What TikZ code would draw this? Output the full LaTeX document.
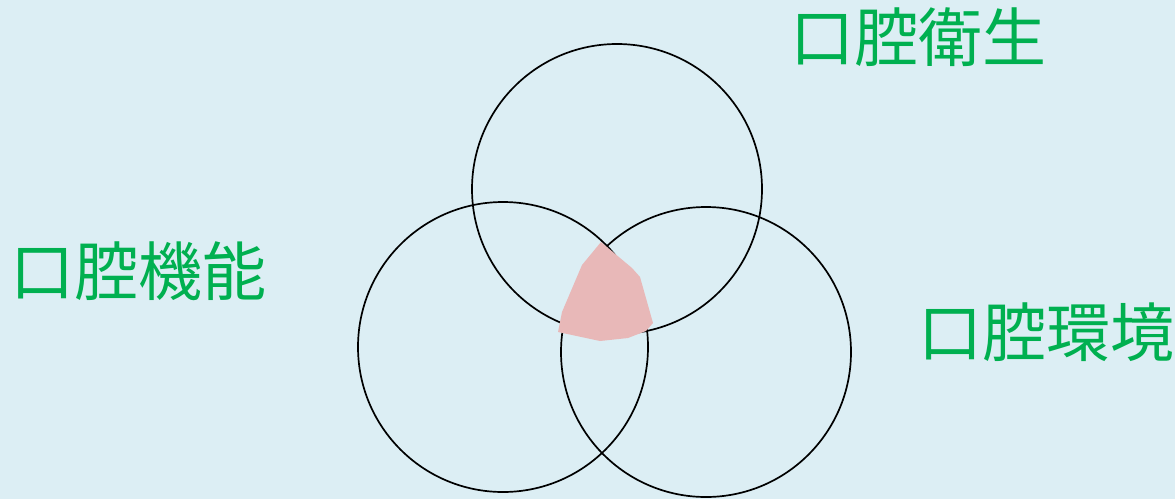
\documentclass[tikz,border=0pt]{standalone}
\usepackage{fontspec}
\newfontfamily\cjk{Noto Sans CJK JP}
\definecolor{bg}{HTML}{DCEEF4}
\definecolor{lbl}{HTML}{00B050}
\definecolor{pinkfill}{HTML}{E8B8B8}
\begin{document}
\begin{tikzpicture}[x=1pt,y=-1pt,
  ring/.style={draw=black,line width=1.7pt,circle,minimum size=290pt,inner sep=0pt},
  lab/.style={text=lbl,font=\cjk\fontsize{64}{64}\selectfont,inner sep=0pt,anchor=center}]
\fill[bg] (0,0) rectangle (1175,499);
\useasboundingbox (0,0) rectangle (1175,499);
\node[ring] (top) at (617,189) {};
\node[ring] (left) at (503,347) {};
\node[ring] (right) at (706,352) {};
\fill[pinkfill] (601,242) -- (582,265) -- (562,312) -- (558,332) -- (600,341) -- (628,338) -- (646,331) -- (653,323) -- (640,277) -- (632,268) -- cycle;
\node[lab] (l1) at (918,37) {口腔衛生};
\node[lab] (l2) at (138,271) {口腔機能};
\node[lab] (l3) at (1046,332) {口腔環境};
\end{tikzpicture}
\end{document}
